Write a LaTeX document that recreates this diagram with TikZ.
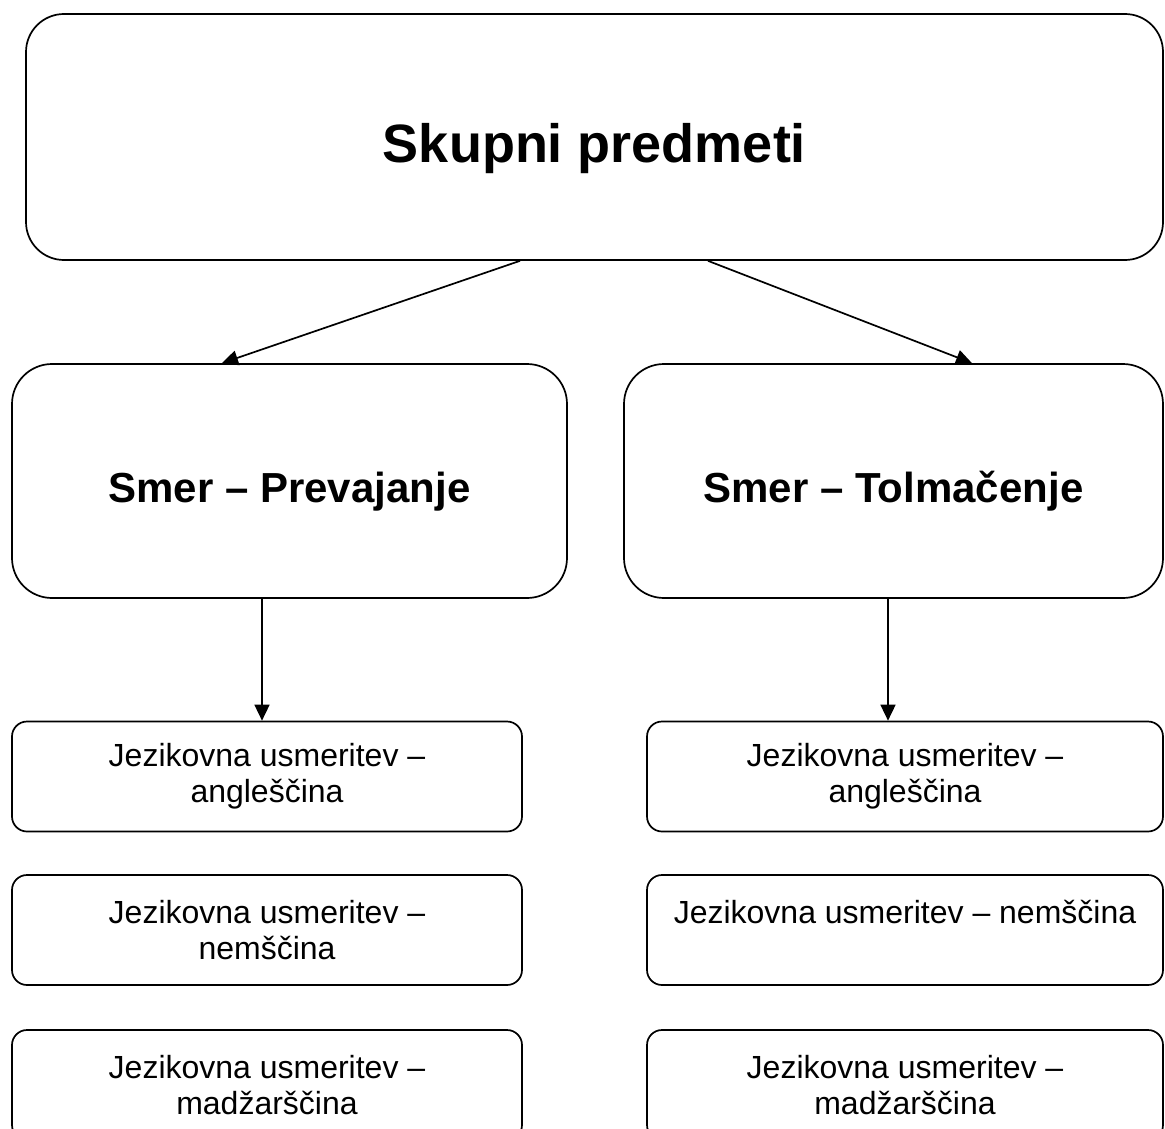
\documentclass[tikz,border=0pt]{standalone}
\usepackage{fontspec}
\setmainfont{Liberation Sans}
\usetikzlibrary{arrows.meta}

\begin{document}
\begin{tikzpicture}[x=1pt,y=-1pt]
			\tikzset{skupno/.style={rectangle, draw=black, line width=1.7pt, rounded corners=38pt, inner sep=0pt, minimum width=1137pt, minimum height=246pt, text height=64pt, text depth=12pt, font=\bfseries\fontsize{54}{60}\selectfont},
			smer/.style={rectangle, draw=black, line width=1.7pt, rounded corners=40pt, inner sep=0pt, minimum height=234pt, text height=50pt, text depth=8pt, font=\bfseries\fontsize{42}{48}\selectfont},
			jezik/.style={rectangle, draw=black, line width=1.7pt, rounded corners=15pt, inner sep=0pt, minimum height=110pt, align=center, font=\fontsize{32}{36}\selectfont},
			fleche/.style={>={Triangle[length=16pt, width=15pt]}, ->, line width=1.7pt}};

			\useasboundingbox (0,0) rectangle (1165,1129);

			\node[skupno] (sk) at (594.5, 137) {Skupni predmeti};

			\node[smer, minimum width=555pt] (pr) at (289.5, 481) {Smer – Prevajanje};
			\node[smer, minimum width=539pt] (to) at (893.5, 481) {Smer – Tolmačenje};

			\node[jezik, minimum width=510pt] (pa) at (267,  776.5) {Jezikovna usmeritev –\\angleščina};
			\node[jezik, minimum width=510pt] (pn) at (267,  930) {Jezikovna usmeritev –\\nemščina};
			\node[jezik, minimum width=510pt] (pm) at (267, 1085) {Jezikovna usmeritev –\\madžarščina};

			\node[jezik, minimum width=516pt] (ta) at (905,  776.5) {Jezikovna usmeritev –\\angleščina};
			\node[jezik, minimum width=516pt] (tn) at (905,  930) {Jezikovna usmeritev – nemščina\\\mbox{}};
			\node[jezik, minimum width=516pt] (tm) at (905, 1085) {Jezikovna usmeritev –\\madžarščina};

			\draw[fleche] ([xshift=-74.5pt]sk.south) -- ([xshift=-67.5pt]pr.north);
			\draw[fleche] ([xshift=113.5pt]sk.south) -- ([xshift= 78.5pt]to.north);
			\draw[fleche] ([xshift=-27.5pt]pr.south) -- ([xshift= -5pt]pa.north);
			\draw[fleche] ([xshift= -5.5pt]to.south) -- ([xshift=-17pt]ta.north);

		\end{tikzpicture}
\end{document}
